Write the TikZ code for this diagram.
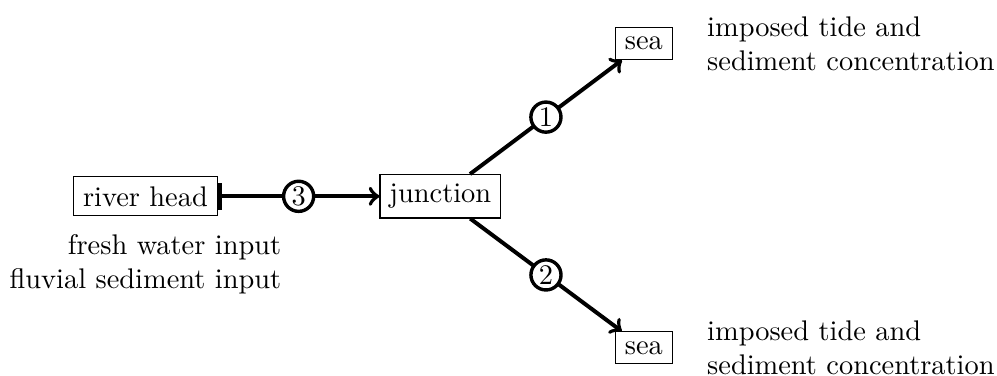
\documentclass[tikz,border=0pt]{standalone}
\usepackage{tikz}
\usetikzlibrary{positioning}

\begin{document}
\begin{tikzpicture}
            [box/.style = {draw, rectangle},
             num/.style = {draw, circle, line width=1.2pt, fill=white, inner sep=0pt, minimum size=10.6pt},
             flow/.style = {line width=1.4pt}]

            \useasboundingbox (0,0) rectangle (12.34,4.65);

            \node[box] (river) at (1.80,2.22) {river head};
            \node[box] (junc) at (5.45,2.22) {junction};
            \node[box] (seaup) at (7.97,4.11) {sea};
            \node[box] (seadown) at (7.97,0.345) {sea};

            \node[below=0.1cm of river, align=right] (fluvin) {fresh water input\\fluvial sediment input};
            \node[right=0.3cm of seaup, align=left] (tideup) {imposed tide and\\sediment concentration};
            \node[right=0.3cm of seadown, align=left] (tidedown) {imposed tide and\\sediment concentration};

            \draw[flow, |->] (river) to node[num] {3} (junc);
            \draw[flow, ->] (junc) to node[num] {1} (seaup);
            \draw[flow, ->] (junc) to node[num] {2} (seadown);

        \end{tikzpicture}
\end{document}
